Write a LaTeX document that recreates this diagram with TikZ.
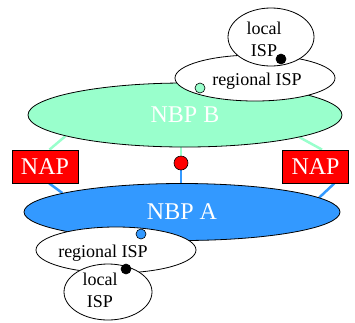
\documentclass[tikz,border=0pt]{standalone}
\usepackage{fontspec}
\setmainfont{Liberation Serif}
\usetikzlibrary{
	positioning,
	shapes.geometric,
	calc
}
\pgfdeclarelayer{background}
\pgfsetlayers{background,main}

\definecolor{mint}{HTML}{99FFCC}
\definecolor{skyblue}{HTML}{3399FF}

\tikzset{
	backbone/.style={ellipse,draw=black,line width=0.8pt,inner sep=0pt,text=white,font=\fontsize{24}{24}\selectfont},
	isp/.style={ellipse,draw=black,fill=white,line width=0.8pt,inner sep=0pt},
	isptext/.style={font=\fontsize{18}{22}\selectfont,align=center,inner sep=0pt},
	nap/.style={rectangle,draw=black,fill=red,line width=0.8pt,text=white,minimum width=66pt,minimum height=33pt,inner sep=0pt,font=\fontsize{24}{24}\selectfont},
	dot/.style={circle,draw=black,line width=0.6pt,inner sep=0pt,minimum size=10pt},
	link/.style={line width=2.5pt}
}

\begin{document}
\begin{tikzpicture}[x=1pt,y=-1pt]
	\useasboundingbox (0,0) rectangle (355,322);

	% upper backbone with its ISPs
	\node[backbone,fill=mint,minimum width=314pt,minimum height=64pt] (nbpB) at (185,115) {NBP B};
	\node[isp,minimum width=160pt,minimum height=46pt,label={[isptext,xshift=2pt,yshift=-3pt]center:regional ISP}] (regB) at (255,78) {};
	\node[isp,minimum width=86pt,minimum height=58pt,label={[isptext,xshift=-7pt,yshift=-2pt]center:local\\ISP}] (locB) at (271,37) {};
	\node[dot,fill=black] (hubB) at (281,59) {};
	\node[dot,fill=mint] (gwB) at (200,88) {};

	% lower backbone with its ISPs
	\node[backbone,fill=skyblue,minimum width=316pt,minimum height=57pt] (nbpA) at (182,212) {NBP A};
	\node[isp,minimum width=160pt,minimum height=46pt,label={[isptext,xshift=-13pt,yshift=-3pt]center:regional ISP}] (regA) at (116,250) {};
	\node[isp,minimum width=88pt,minimum height=56pt,label={[isptext,xshift=-8pt,yshift=2pt]center:local\\ISP}] (locA) at (108,292) {};
	\node[dot,fill=skyblue] (gwA) at (141,234) {};
	\node[dot,fill=black] (hubA) at (126,269) {};

	% exchange points
	\node[nap] (napL) at (45,166.5) {NAP};
	\node[nap] (napR) at (315.5,166.5) {NAP};
	\node[dot,fill=red,minimum size=14pt] (peer) at (181,163) {};

	\begin{pgfonlayer}{background}
		\draw[link,mint] (napL.75) -- (nbpB.190);
		\draw[link,mint] (peer.center) -- (peer |- nbpB.center);
		\draw[link,mint] (napR.69) -- (nbpB.349);

		\draw[link,skyblue] (napL.284) -- (nbpA.171);
		\draw[link,skyblue] (peer.center) -- (peer |- nbpA.center);
		\draw[link,skyblue] (napR.318) -- (nbpA.6);
	\end{pgfonlayer}
\end{tikzpicture}
\end{document}
